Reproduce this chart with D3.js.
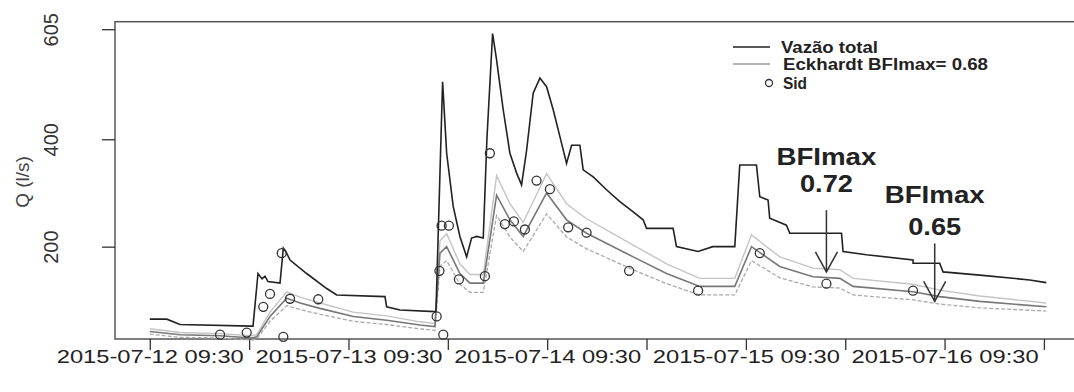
<!DOCTYPE html>
<html>
  <head>
    <meta charset="utf-8">
    <title>Vazão total e separação de escoamento de base</title>
    <script src="https://d3js.org/d3.v7.min.js"></script>
    <style>
      body { margin: 0; background: #fff; }
      text { font-family: "Liberation Sans", Arial, sans-serif; fill: #222; }
      .axis path { display: none; }
      .axis line { stroke: #333; stroke-width: 1.3; }
    </style>
  </head>
  <body>
    <svg width="1074" height="392"></svg>
    <script>
      // hours after 2015-07-12 09:30
      var totalHours = [0, 2.05, 3.66, 12.31, 12.47, 13.07, 13.56, 13.92, 14.28, 15.73, 16.13, 16.46, 16.94, 18.95, 21.37,
        22.58, 28.41, 28.61, 30.22, 34.44, 34.57, 35.37, 35.86, 36.65, 37.46, 38.27, 38.87, 39.48, 40.28, 40.72,
        41.41, 41.89, 42.69, 43.50, 44.31, 44.91, 45.52, 46.31, 47.12, 47.93, 48.73, 49.54, 50.34, 50.95, 51.95,
        52.35, 53.56, 55.17, 56.78, 58.39, 59.59, 60.0, 63.21, 63.62, 66.23, 68.0, 70.66, 71.26, 73.28, 73.68,
        74.68, 74.88, 76.9, 77.3, 83.55, 83.74, 86.56, 92.19, 92.2, 95.41, 95.81, 100.25, 106.29, 108.29];
      var totalFlow = [65, 65, 55, 52, 52, 150, 140, 145, 135, 132, 197, 190, 175, 150, 122,
        110, 107, 88, 82, 79, 80, 507, 374, 275, 219, 181, 216, 219, 216, 400,
        597, 548, 455, 374, 337, 315, 380, 486, 514, 498, 455, 405, 355, 389, 389,
        343, 330, 306, 284, 265, 250, 234, 234, 200, 191, 200, 200, 352, 352, 293,
        287, 253, 240, 225, 225, 191, 185, 175, 169, 169, 153, 147, 138, 133];

      var baseHours = [0, 3.66, 8.49, 12.31, 12.92, 14.52, 16.54, 18.15, 20.56, 24.58, 28.61, 32.63, 34.44, 35.05,
        35.86, 37.46, 38.67, 40.28, 41.89, 43.50, 45.10, 47.93, 50.34, 52.76, 58.39, 62.42, 66.43, 70.66,
        72.68, 76.09, 80.11, 83.35, 84.95, 92.19, 95.41, 100.25, 108.29];
      var base068 = [42, 36, 34, 30, 32, 70, 104, 95, 85, 70, 63, 54, 51, 188,
        200, 150, 132, 132, 296, 250, 219, 300, 250, 225, 181, 150, 126, 126,
        200, 163, 144, 141, 126, 116, 107, 98, 88];
      var base072 = [47, 40, 38, 34, 36, 78, 116, 106, 95, 78, 71, 60, 57, 211,
        224, 168, 148, 148, 332, 280, 245, 336, 280, 252, 203, 168, 141, 141,
        222, 181, 160, 157, 141, 130, 119, 108, 95];
      var base065 = [37, 31, 30, 26, 28, 61, 90, 83, 74, 61, 55, 47, 44, 164,
        174, 130, 115, 115, 258, 218, 191, 261, 218, 196, 157, 131, 110, 110,
        174, 142, 125, 123, 110, 101, 93, 86, 80];

      var sidHours = [8.49, 11.71, 13.71, 14.52, 15.94, 16.13, 16.94, 20.35, 34.65, 34.99, 35.25, 35.45, 36.13, 37.34,
        40.48, 41.08, 42.89, 43.98, 45.31, 46.72, 48.33, 50.54, 52.76, 57.90, 66.23, 73.68, 81.73, 92.19];
      var sidFlow = [36, 40, 88, 112, 188, 32, 103, 102, 70, 155, 239, 36, 239, 139,
        145, 374, 242, 247, 232, 323, 307, 236, 226, 155, 118, 188, 131, 118];

      var yTicks = [200, 400, 605];
      var xTickHours = [0, 12, 24, 36, 48, 60, 72, 84, 96, 108];

      var annoHours = [81.73, 94.81];
      var annoTip = [153, 98];
      var annoTop = [268, 206];
      var annoLabelTop = [352, 281];
      var annoLabelBottom = [302, 222];
      var annoValues = ["0.72", "0.65"];

      var legendLabels = ["Vazão total", "Eckhardt BFImax= 0.68", "Sid"];

      var start = new Date(2015, 6, 12, 9, 30);
      function toDate(h) { return new Date(start.getTime() + h * 3600000); }

      var margin = {top: 21.7, left: 115},
          width = 967,
          height = 339 - 21.7;

      var svg = d3.select("svg");
      var g = svg.append("g")
          .attr("transform", "translate(" + margin.left + "," + margin.top + ")");

      var x = d3.scaleTime()
          .domain([toDate(-4.2), toDate(112.6)])
          .range([0, width]);

      var y = d3.scaleLinear()
          .domain([28, 619])
          .range([height, 0]);

      // box
      g.append("rect")
          .attr("width", width)
          .attr("height", height)
          .attr("fill", "none")
          .attr("stroke", "#555")
          .attr("stroke-width", 1.5);

      var fmt = d3.timeFormat("%Y-%m-%d %H:%M");
      var xAxis = g.append("g")
          .attr("class", "axis")
          .attr("transform", "translate(0," + height + ")")
          .call(d3.axisBottom(x)
            .tickValues(xTickHours.map(toDate))
            .tickSize(11)
            .tickFormat(function(d, i) { return i % 2 === 0 ? fmt(d) : ""; }));
      xAxis.selectAll("text")
          .attr("y", 11)
          .attr("font-size", 19)
          .attr("textLength", function(d, i) { return i % 2 === 0 ? 187 : null; })
          .attr("lengthAdjust", "spacingAndGlyphs");

      var yAxis = g.append("g")
          .attr("class", "axis")
          .call(d3.axisLeft(y).tickValues(yTicks).tickSize(13));
      yAxis.selectAll("text")
          .attr("transform", "rotate(-90)")
          .attr("x", 0)
          .attr("y", -57)
          .attr("dy", 0)
          .attr("text-anchor", "middle")
          .attr("font-size", 20)
          .style("fill", "#333");

      svg.append("text")
          .attr("transform", "translate(29,182) rotate(-90)")
          .attr("text-anchor", "middle")
          .attr("font-size", 19)
          .style("fill", "#444")
          .text("Q (l/s)");

      function series(hours, vals) {
        return hours.map(function(h, i) { return {t: toDate(h), v: vals[i]}; });
      }
      var line = d3.line()
          .x(function(d) { return x(d.t); })
          .y(function(d) { return y(d.v); });

      var plot = g.append("g");

      plot.append("path")
          .datum(series(baseHours, base072))
          .attr("d", line)
          .attr("fill", "none")
          .attr("stroke", "#c4c4c4")
          .attr("stroke-width", 1.4);

      plot.append("path")
          .datum(series(baseHours, base065))
          .attr("d", line)
          .attr("fill", "none")
          .attr("stroke", "#aaa")
          .attr("stroke-width", 1.3)
          .attr("stroke-dasharray", "4,2");

      plot.append("path")
          .datum(series(baseHours, base068))
          .attr("d", line)
          .attr("fill", "none")
          .attr("stroke", "#777")
          .attr("stroke-width", 1.6);

      plot.append("path")
          .datum(series(totalHours, totalFlow))
          .attr("d", line)
          .attr("fill", "none")
          .attr("stroke", "#222")
          .attr("stroke-width", 1.6);

      plot.selectAll(".sid")
          .data(series(sidHours, sidFlow))
          .enter().append("circle")
          .attr("class", "sid")
          .attr("cx", function(d) { return x(d.t); })
          .attr("cy", function(d) { return y(d.v); })
          .attr("r", 4.5)
          .attr("fill", "none")
          .attr("stroke", "#333")
          .attr("stroke-width", 1.3);

      // BFImax arrows
      annoHours.forEach(function(h, i) {
        var ax = x(toDate(h)), tip = y(annoTip[i]);
        plot.append("line")
            .attr("x1", ax).attr("x2", ax)
            .attr("y1", y(annoTop[i])).attr("y2", tip)
            .attr("stroke", "#333").attr("stroke-width", 1.5);
        plot.append("path")
            .attr("d", "M" + (ax - 11) + "," + (tip - 20) + "L" + ax + "," + tip + "L" + (ax + 11) + "," + (tip - 20))
            .attr("fill", "none").attr("stroke", "#333").attr("stroke-width", 1.5);
        plot.append("text")
            .attr("x", ax).attr("y", y(annoLabelTop[i]))
            .attr("text-anchor", "middle")
            .attr("font-size", 23).attr("font-weight", "bold")
            .attr("textLength", 100).attr("lengthAdjust", "spacingAndGlyphs")
            .text("BFImax");
        plot.append("text")
            .attr("x", ax).attr("y", y(annoLabelBottom[i]))
            .attr("text-anchor", "middle")
            .attr("font-size", 23).attr("font-weight", "bold")
            .attr("textLength", 53).attr("lengthAdjust", "spacingAndGlyphs")
            .text(annoValues[i]);
      });

      // legend
      var leg = svg.append("g");
      var legY = [47, 64, 83];
      leg.append("line").attr("x1", 733).attr("x2", 770).attr("y1", legY[0]).attr("y2", legY[0])
          .attr("stroke", "#222").attr("stroke-width", 1.7);
      leg.append("line").attr("x1", 733).attr("x2", 770).attr("y1", legY[1]).attr("y2", legY[1])
          .attr("stroke", "#999").attr("stroke-width", 1.5);
      leg.append("circle").attr("cx", 769).attr("cy", legY[2]).attr("r", 3.5)
          .attr("fill", "none").attr("stroke", "#333").attr("stroke-width", 1.3);
      var legLen = [97, 205, 24];
      var legX = [781, 783, 783];
      leg.selectAll(".legtext")
          .data(legendLabels)
          .enter().append("text")
          .attr("x", function(d, i) { return legX[i]; })
          .attr("y", function(d, i) { return legY[i] + 5.5; })
          .attr("font-size", 16)
          .attr("font-weight", "bold")
          .attr("textLength", function(d, i) { return legLen[i]; })
          .attr("lengthAdjust", "spacingAndGlyphs")
          .text(function(d) { return d; });
    </script>
  </body>
</html>
